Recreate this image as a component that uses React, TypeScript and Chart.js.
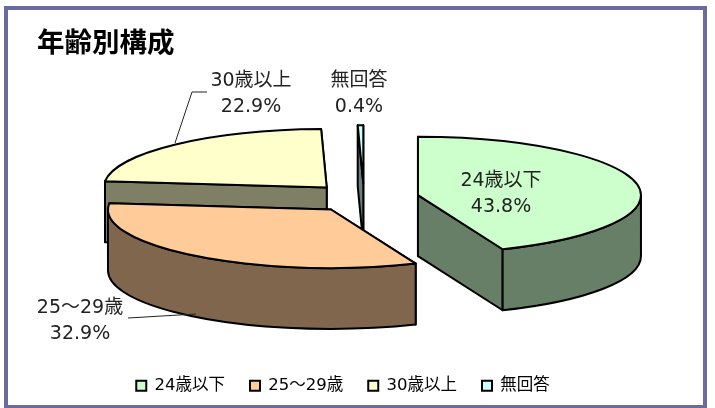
import React, { useEffect, useRef } from "react";
import { Chart, registerables } from "chart.js";

Chart.register(...registerables);

const TITLE = "年齢別構成";
const categories = ["24歳以下", "25～29歳", "30歳以上", "無回答"];
const shares = [43.8, 32.9, 22.9, 0.4];
const sliceColors = ["#CCFFCC", "#FFCC99", "#FFFFCC", "#CCFFFF"];
const wallColors = ["#667F66", "#7F664C", "#7F7F66", "#667F7F"];

const FONT = '"DejaVu Sans", "Noto Sans CJK JP", sans-serif';
const CENTER_X = 364;
const CENTER_Y = 198;
const RADIUS = 223;
const SQUASH = 0.262;
const DEPTH = 61;
const EXPLODE = 55;
const paintOrder = [2, 3, 0, 1];
const labelPlacement = [
  { x: 501, y: 181 },
  { x: 80, y: 308 },
  { x: 251, y: 81 },
  { x: 359, y: 81 },
];
const leaderLines = [
  null,
  [[128, 318], [196, 314]],
  [[207, 92], [192, 92], [175, 143]],
  null,
];

const pie3d = {
  id: "pie3d",
  beforeDraw(chart: any) {
    const { ctx } = chart;
    ctx.save();
    ctx.strokeStyle = "#6B6B9F";
    ctx.lineWidth = 4;
    ctx.strokeRect(6, 8, 699, 399);
    ctx.restore();
  },
  beforeDatasetDraw(chart: any, args: any) {
    const { ctx } = chart;
    const arcs = args.meta.data;
    const geom = arcs.map((arc: any) => {
      const mid = (arc.startAngle + arc.endAngle) / 2;
      const cx = CENTER_X + EXPLODE * Math.cos(mid);
      const cy = CENTER_Y + EXPLODE * SQUASH * Math.sin(mid);
      return { cx, cy, a0: arc.startAngle, a1: arc.endAngle, r: arc.outerRadius };
    });
    ctx.save();
    ctx.strokeStyle = "#000";
    ctx.lineWidth = 2;
    ctx.lineJoin = "round";
    const rim = (g: any, a: number) => [g.cx + g.r * Math.cos(a), g.cy + g.r * SQUASH * Math.sin(a)];
    for (const i of paintOrder) {
      const g = geom[i];
      ctx.fillStyle = wallColors[i];
      const walls = [
        { a: g.a0, normal: Math.sin(g.a0 - Math.PI / 2) },
        { a: g.a1, normal: Math.sin(g.a1 + Math.PI / 2) },
      ].sort((p, q) => p.normal - q.normal);
      for (const w of walls) {
        const [x, y] = rim(g, w.a);
        ctx.beginPath();
        ctx.moveTo(g.cx, g.cy);
        ctx.lineTo(x, y);
        ctx.lineTo(x, y + DEPTH);
        ctx.lineTo(g.cx, g.cy + DEPTH);
        ctx.closePath();
        ctx.fill();
        ctx.stroke();
      }
      const f0 = Math.max(g.a0, 0);
      const f1 = Math.min(g.a1, Math.PI);
      if (f1 > f0) {
        ctx.beginPath();
        ctx.ellipse(g.cx, g.cy, g.r, g.r * SQUASH, 0, f0, f1);
        ctx.ellipse(g.cx, g.cy + DEPTH, g.r, g.r * SQUASH, 0, f1, f0, true);
        ctx.closePath();
        ctx.fill();
        ctx.stroke();
      }
    }
    for (const i of paintOrder) {
      const g = geom[i];
      const arc = arcs[i];
      ctx.save();
      ctx.translate(g.cx, g.cy);
      ctx.scale(1, SQUASH);
      ctx.translate(-arc.x, -arc.y);
      arc.draw(ctx);
      ctx.restore();
      ctx.save();
      ctx.translate(g.cx, g.cy);
      ctx.scale(1, SQUASH);
      ctx.beginPath();
      ctx.moveTo(0, 0);
      ctx.arc(0, 0, g.r, g.a0, g.a1);
      ctx.closePath();
      ctx.restore();
      ctx.stroke();
    }
    ctx.restore();
    return false;
  },
  afterDatasetsDraw(chart: any) {
    const { ctx } = chart;
    ctx.save();
    ctx.strokeStyle = "#222";
    ctx.lineWidth = 1;
    for (const line of leaderLines) {
      if (!line) continue;
      ctx.beginPath();
      line.forEach(([x, y], n) => (n ? ctx.lineTo(x, y) : ctx.moveTo(x, y)));
      ctx.stroke();
    }
    ctx.fillStyle = "#222";
    ctx.font = `19px ${FONT}`;
    ctx.textAlign = "center";
    ctx.textBaseline = "middle";
    categories.forEach((name, i) => {
      const p = labelPlacement[i];
      ctx.fillText(name, p.x, p.y);
      ctx.fillText(`${shares[i]}%`, p.x, p.y + 26);
    });
    ctx.restore();
  },
};

export default function App() {
  const ref = useRef<HTMLCanvasElement>(null);
  useEffect(() => {
    const chart = new Chart(ref.current!, {
      type: "pie",
      data: {
        labels: categories,
        datasets: [{ data: shares, backgroundColor: sliceColors, borderWidth: 0 }],
      },
      options: {
        animation: false,
        responsive: false,
        events: [],
        radius: RADIUS,
        layout: { padding: { left: 37, right: 66, top: 0, bottom: 4 } },
        plugins: {
          tooltip: { enabled: false },
          title: {
            display: true,
            text: TITLE,
            align: "start",
            color: "#000",
            font: { family: '"Noto Sans CJK JP", sans-serif', size: 27.5, weight: "bold" },
            padding: { top: 25, bottom: 0 },
          },
          legend: {
            position: "bottom",
            labels: {
              color: "#222",
              font: { family: FONT, size: 16.5 },
              boxWidth: 10,
              boxHeight: 10,
              padding: 25,
              generateLabels: () =>
                categories.map((text, i) => ({
                  text,
                  fillStyle: sliceColors[i],
                  strokeStyle: "#000",
                  lineWidth: 2,
                  index: i,
                  hidden: false,
                })),
            },
          },
        },
      } as any,
      plugins: [pie3d],
    } as any);
    return () => chart.destroy();
  }, []);
  return (
    <canvas
      ref={ref}
      width={715}
      height={408}
      style={{ position: "fixed", left: 0, top: 0, width: 715, height: 408, display: "block" }}
    />
  );
}
